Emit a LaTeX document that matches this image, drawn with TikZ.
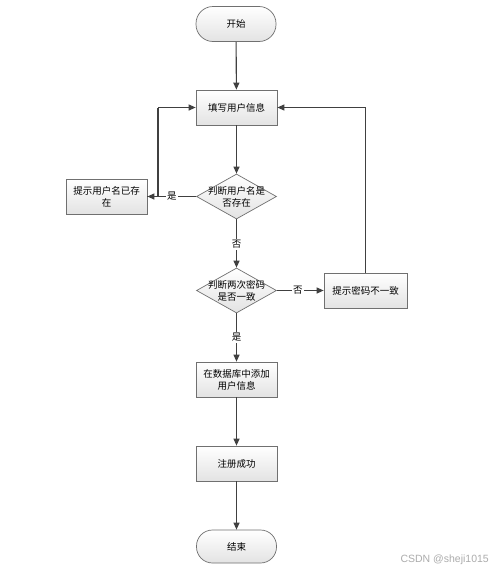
\documentclass[tikz,border=0pt]{standalone}
\usepackage{fontspec}
\newfontfamily\cjk{Noto Sans CJK SC}
\usetikzlibrary{shapes.geometric,arrows.meta}
\definecolor{edgec}{HTML}{404040}
\definecolor{borderc}{HTML}{707070}
\tikzset{
  base/.style={draw=borderc,line width=0.7pt,top color=white,bottom color=gray!22,font=\cjk\fontsize{9.5}{12}\selectfont,align=center,inner sep=0pt},
  term/.style={base,rectangle,rounded corners=17pt,minimum width=80pt,minimum height=35pt},
  procbox/.style={base,rectangle,minimum width=81pt,minimum height=35pt},
  decision/.style={base,diamond,minimum width=80pt,minimum height=45pt},
  dtext/.style={font=\cjk\fontsize{9.5}{12}\selectfont,align=center,inner sep=0pt},
  conn/.style={draw=edgec,line width=1.1pt,-{Triangle[length=7pt,width=6pt]}},
  plainconn/.style={draw=edgec,line width=1.1pt},
  lbl/.style={font=\cjk\fontsize{9.5}{12}\selectfont,fill=white,inner sep=1pt}
}
\begin{document}
\begin{tikzpicture}[x=1pt,y=-1pt]
\useasboundingbox (0,0) rectangle (500,573);
\fill[white] (0,0) rectangle (500,573);
\node[term] (start) at (236,24) {开始};
\node[procbox] (fill) at (236.5,107.5) {填写用户信息};
\node[decision] (d1) at (236.5,196.5) {};
\node[dtext] (d1t) at (236.5,196.5) {判断用户名是\\否存在};
\node[procbox] (exist) at (106.5,196.5) {提示用户名已存\\在};
\node[decision] (d2) at (236.5,290.5) {};
\node[dtext] (d2t) at (236.5,290.5) {判断两次密码\\是否一致};
\node[procbox,minimum width=83pt] (mismatch) at (365.5,290.5) {提示密码不一致};
\node[procbox] (add) at (236.5,379.5) {在数据库中添加\\用户信息};
\node[procbox] (ok) at (236.5,463.5) {注册成功};
\node[term,minimum height=33pt,rounded corners=16pt] (end) at (236.5,546.5) {结束};
\coordinate (lc) at (158,196.5);
\coordinate (lt) at (158,107.5);
\coordinate (rt) at (365.5,107.5);

\draw[conn] (start) -- (fill);
\draw[conn] (fill) -- (d1);
\draw[conn] (d1.west) -- node[lbl,pos=0.5] (l1) {是} (exist.east);
\draw[plainconn] (exist.east) -- (lc) -- (lt);
\draw[conn] (lt) -- (fill.west);
\draw[conn] (d1.south) -- node[lbl,pos=0.52] (l2) {否} (d2.north);
\draw[conn] (d2.east) -- node[lbl,pos=0.45] (l3) {否} (mismatch.west);
\draw[plainconn] (mismatch.north) -- (rt);
\draw[conn] (rt) -- (fill.east);
\draw[conn] (d2.south) -- node[lbl,pos=0.5] (l4) {是} (add.north);
\draw[conn] (add) -- (ok);
\draw[conn] (ok) -- (end);
\node[font=\fontspec{Liberation Sans}\fontsize{10.5}{12}\selectfont,text=gray!65,anchor=east,inner sep=0pt] (wm) at (489,560) {CSDN @sheji1015};
\end{tikzpicture}
\end{document}
